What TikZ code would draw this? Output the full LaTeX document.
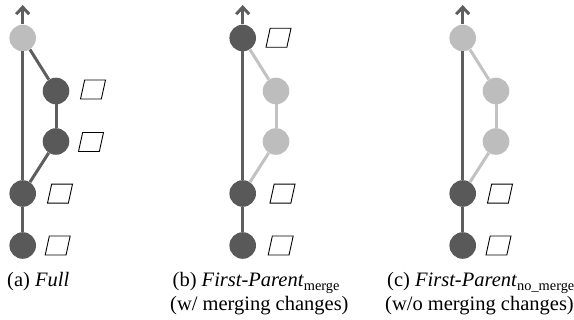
\documentclass[tikz,border=0pt]{standalone}
\usepackage{fontspec}
\setmainfont{Liberation Serif}
\usetikzlibrary{arrows.meta,shapes.geometric}
\definecolor{darkc}{HTML}{595959}
\definecolor{lightc}{HTML}{BDBDBD}
\definecolor{darkl}{HTML}{5E5E5E}
\definecolor{lightl}{HTML}{C2C2C2}
\begin{document}
\begin{tikzpicture}[x=1pt,y=-1pt,
  dnode/.style={circle,fill=darkc,minimum size=26.6pt,inner sep=0pt},
  lnode/.style={circle,fill=lightc,minimum size=26.6pt,inner sep=0pt},
  para/.style={trapezium,draw=black,line width=0.9pt,trapezium left angle=76,trapezium right angle=104,trapezium stretches=true,minimum width=25pt,minimum height=19pt,inner sep=1pt},
  mainedge/.style={draw=darkl,line width=3pt},
  darkedge/.style={draw=darkl,line width=3pt},
  lightedge/.style={draw=lightl,line width=3pt},
  arrowedge/.style={draw=darkl,line width=3pt,-{Straight Barb[length=7pt,width=13pt]}},
  captext/.style={anchor=base west,inner sep=0pt,font=\fontsize{20.5}{24}\selectfont}
]
\useasboundingbox (0,0) rectangle (574,320);
% ---------- panel (a)
\node[lnode] (a1) at (22.7,38) {};
\node[dnode] (a2) at (56,91) {};
\node[dnode] (a3) at (56,141.5) {};
\node[dnode] (a4) at (22.7,193.5) {};
\node[dnode] (a5) at (22.7,245.5) {};
\coordinate (atip) at (22.7,5);
% ---------- panel (b)
\node[dnode] (b1) at (242.7,38) {};
\node[lnode] (b2) at (276,91) {};
\node[lnode] (b3) at (276,141.5) {};
\node[dnode] (b4) at (242.7,193.5) {};
\node[dnode] (b5) at (242.7,245.5) {};
\coordinate (btip) at (242.7,5);
% ---------- panel (c)
\node[lnode] (c1) at (462.7,38) {};
\node[lnode] (c2) at (496,91) {};
\node[lnode] (c3) at (496,141.5) {};
\node[dnode] (c4) at (462.7,193.5) {};
\node[dnode] (c5) at (462.7,245.5) {};
\coordinate (ctip) at (462.7,5);
% edges (a)
\path[mainedge] (a5) -- (a4);
\path[mainedge] (a4) -- (a1);
\path[arrowedge] (a1) -- (atip);
\path[darkedge] (a1) -- (a2);
\path[darkedge] (a2) -- (a3);
\path[darkedge] (a3) -- (a4);
% edges (b)
\path[mainedge] (b5) -- (b4);
\path[mainedge] (b4) -- (b1);
\path[arrowedge] (b1) -- (btip);
\path[lightedge] (b1) -- (b2);
\path[lightedge] (b2) -- (b3);
\path[lightedge] (b3) -- (b4);
% edges (c)
\path[mainedge] (c5) -- (c4);
\path[mainedge] (c4) -- (c1);
\path[arrowedge] (c1) -- (ctip);
\path[lightedge] (c1) -- (c2);
\path[lightedge] (c2) -- (c3);
\path[lightedge] (c3) -- (c4);
% change boxes
\node[para] (pa2) at (93,89.5) {};
\node[para] (pa3) at (91,142) {};
\node[para] (pa4) at (60,193.7) {};
\node[para] (pa5) at (57.7,245.5) {};
\node[para] (pb1) at (278.5,37.8) {};
\node[para] (pb4) at (282.5,193.7) {};
\node[para] (pb5) at (280.7,245.5) {};
\node[para] (pc4) at (500,193.7) {};
\node[para] (pc5) at (498.5,245.5) {};
% captions
\node[captext] (capa) at (7,287) {(a) \textit{Full}};
\node[captext] (capb1) at (172.5,287) {(b) \textit{First-Parent}\textsubscript{merge}};
\node[captext] (capb2) at (170,311) {(w/ merging changes)};
\node[captext] (capc1) at (387,287) {(c) \textit{First-Parent}\textsubscript{no\_merge}};
\node[captext] (capc2) at (385,311) {(w/o merging changes)};
\end{tikzpicture}
\end{document}
